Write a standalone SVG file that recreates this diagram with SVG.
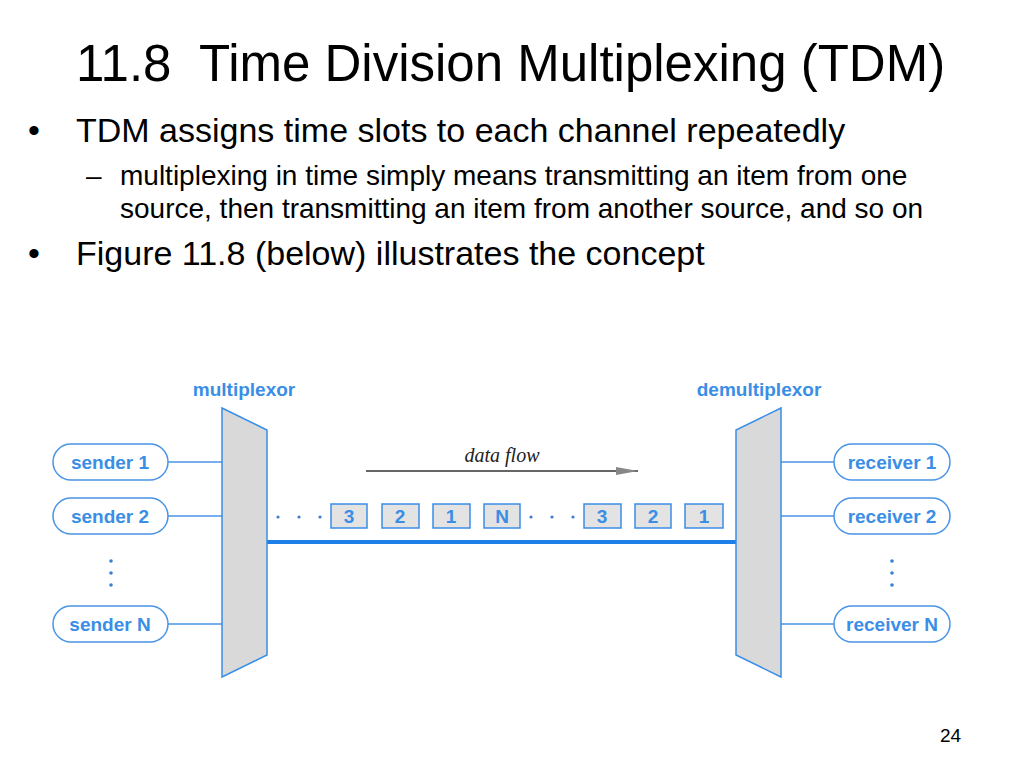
<svg xmlns="http://www.w3.org/2000/svg" width="1024" height="768" viewBox="0 0 1024 768">
<style>
.t{font-family:"Liberation Sans",Arial,sans-serif;fill:#000}
.lbl{font-family:"Liberation Sans",Arial,sans-serif;font-weight:bold;font-size:19px;fill:#3a8ee6;text-anchor:middle}
.pill{fill:#fff;stroke:#4a94e8;stroke-width:1.5}
.mux{fill:#d9d9d9;stroke:#3a8ee6;stroke-width:1.5}
.slot{fill:#e3e3e3;stroke:#3a8ee6;stroke-width:1.5}
.wire{stroke:#4a94e8;stroke-width:1.5;fill:none}
.dot{fill:#3a7fd0}
</style>
<defs>
<marker id="ah" markerWidth="22" markerHeight="8" refX="22" refY="4" orient="auto" markerUnits="userSpaceOnUse">
<path d="M0,0 L22,4 L0,8 Z" fill="#888"/>
</marker>
</defs>
<rect width="1024" height="768" fill="#fff"/>
<text class="t" x="76" y="81" font-size="51" xml:space="preserve">11.8  Time Division Multiplexing (TDM)</text>
<text class="t" x="28" y="142" font-size="34">•</text>
<text class="t" x="76" y="142" font-size="34">TDM assigns time slots to each channel repeatedly</text>
<text class="t" x="86" y="185" font-size="28">–</text>
<text class="t" x="120" y="185" font-size="28">multiplexing in time simply means transmitting an item from one</text>
<text class="t" x="120" y="218" font-size="28">source, then transmitting an item from another source, and so on</text>
<text class="t" x="28" y="265" font-size="34">•</text>
<text class="t" x="76" y="265" font-size="34">Figure 11.8 (below) illustrates the concept</text>
<text class="t" x="940" y="742" font-size="19">24</text>

<g id="connectors">
<line class="wire" x1="168" y1="462" x2="222" y2="462"/>
<line class="wire" x1="168" y1="516" x2="222" y2="516"/>
<line class="wire" x1="168" y1="624" x2="222" y2="624"/>
<line class="wire" x1="781" y1="462" x2="834" y2="462"/>
<line class="wire" x1="781" y1="516" x2="834" y2="516"/>
<line class="wire" x1="781" y1="624" x2="834" y2="624"/>
<line x1="267" y1="542" x2="736" y2="542" stroke="#1f7fe8" stroke-width="4"/>
<line x1="366" y1="471" x2="638" y2="471" stroke="#333" stroke-width="1.5" marker-end="url(#ah)"/>
</g>

<g id="multiplexor">
<polygon class="mux" points="222,408 267,430 267,655 222,677"/>
<text class="lbl" x="244" y="396">multiplexor</text>
</g>
<g id="demultiplexor">
<polygon class="mux" points="781,408 736,430 736,655 781,677"/>
<text class="lbl" x="759" y="396">demultiplexor</text>
</g>

<g id="sender1"><rect class="pill" x="53" y="444" width="115" height="36" rx="18"/><text class="lbl" x="110" y="469">sender 1</text></g>
<g id="sender2"><rect class="pill" x="53" y="498" width="115" height="36" rx="18"/><text class="lbl" x="110" y="523">sender 2</text></g>
<g id="senderN"><rect class="pill" x="53" y="606" width="115" height="36" rx="18"/><text class="lbl" x="110" y="631">sender N</text></g>
<g id="receiver1"><rect class="pill" x="834" y="444" width="116" height="36" rx="18"/><text class="lbl" x="892" y="469">receiver 1</text></g>
<g id="receiver2"><rect class="pill" x="834" y="498" width="116" height="36" rx="18"/><text class="lbl" x="892" y="523">receiver 2</text></g>
<g id="receiverN"><rect class="pill" x="834" y="606" width="116" height="36" rx="18"/><text class="lbl" x="892" y="631">receiver N</text></g>

<g id="vdots">
<circle class="dot" cx="111" cy="561" r="1.8"/><circle class="dot" cx="111" cy="573" r="1.8"/><circle class="dot" cx="111" cy="585" r="1.8"/>
<circle class="dot" cx="892" cy="561" r="1.8"/><circle class="dot" cx="892" cy="573" r="1.8"/><circle class="dot" cx="892" cy="585" r="1.8"/>
</g>

<g id="slots">
<circle class="dot" cx="278" cy="517" r="1.6"/><circle class="dot" cx="299" cy="517" r="1.6"/><circle class="dot" cx="320" cy="517" r="1.6"/>
<rect class="slot" x="331" y="504" width="36" height="24"/><text class="lbl" x="349" y="523">3</text>
<rect class="slot" x="382" y="504" width="37" height="24"/><text class="lbl" x="400" y="523">2</text>
<rect class="slot" x="433" y="504" width="37" height="24"/><text class="lbl" x="451" y="523">1</text>
<rect class="slot" x="484" y="504" width="36" height="24"/><text class="lbl" x="502" y="523">N</text>
<circle class="dot" cx="531" cy="517" r="1.6"/><circle class="dot" cx="552" cy="517" r="1.6"/><circle class="dot" cx="573" cy="517" r="1.6"/>
<rect class="slot" x="584" y="504" width="37" height="24"/><text class="lbl" x="602" y="523">3</text>
<rect class="slot" x="635" y="504" width="36" height="24"/><text class="lbl" x="653" y="523">2</text>
<rect class="slot" x="685" y="504" width="38" height="24"/><text class="lbl" x="704" y="523">1</text>
</g>
<text x="502" y="462" font-family="Liberation Serif,serif" font-style="italic" font-size="20" fill="#222" text-anchor="middle">data flow</text>
</svg>
